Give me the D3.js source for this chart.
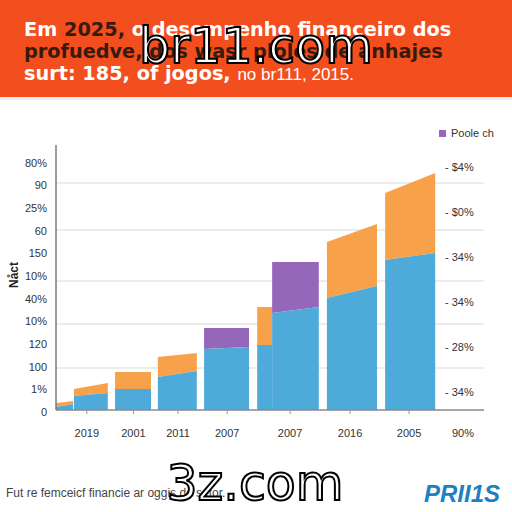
<!DOCTYPE html>
<html>
<head>
<meta charset="utf-8">
<script src="https://cdnjs.cloudflare.com/ajax/libs/d3/7.8.5/d3.min.js"></script>
<style>
  body { margin: 0; background: #fff; }
  svg { display: block; font-family: "Liberation Sans", Arial, sans-serif; }
</style>
</head>
<body>
<div id="chart"></div>
<script>
// bar spans on the x axis (in axis units) and stacked values
var barStart = [0, 0.42, 1.38, 2.38, 3.46, 4.70, 5.05, 6.33, 7.69];
var barEnd   = [0.40, 1.21, 2.22, 3.29, 4.51, 5.05, 6.14, 7.50, 8.86];
// blue base, left and right edge heights
var blueLeft  = [1.2, 5.4, 8.1, 12.7, 23.5, 25.0, 37.3, 43.1, 57.7];
var blueRight = [2.3, 6.5, 8.1, 15.0, 24.2, 25.0, 39.6, 47.7, 60.4];
// top of second segment (total), left and right
var topLeft  = [2.7, 8.1, 14.6, 20.4, 31.5, 39.6, 56.9, 64.6, 83.5];
var topRight = [3.5, 10.4, 14.6, 21.9, 31.5, 39.6, 56.9, 71.5, 91.2];
var topKind  = ["orange", "orange", "orange", "orange", "purple", "orange", "purple", "orange", "orange"];

var gridValues = [16.2, 33.1, 49.6, 69.2, 87.3];

var xLabels = ["2019", "2001", "2011", "2007", "2007", "2016", "2005", "90%"];
var xLabelPos = [0.72, 1.81, 2.85, 4.00, 5.47, 6.87, 8.25, 9.51];
var xTickPos = [0.72, 1.81, 2.85, 4.00, 5.47, 6.87, 8.25];

var leftLabels = ["80%", "90", "25%", "60", "150", "10%", "40%", "10%", "120", "100", "1%", "0"];
var rightLabels = ["- $4%", "- $0%", "- 34%", "- 34%", "- 28%", "- 34%"];

var titleLines = [
  [["Em ", "#fff"], ["2025,", "#3b1a0e"], [" o desempenho financeiro dos", "#fff"]],
  [["profuedve, dos wasr ploles de anhajes", "#3b1a0e"]],
  [["surt: 185, of jogos, ", "#fff"]]
];

var colors = { blue: "#4eaad9", orange: "#f7a24b", purple: "#9467ba" };

var svgWidth = 512, svgHeight = 512;

var svg = d3.select("#chart")
  .append("svg")
  .attr("width", svgWidth)
  .attr("height", svgHeight);

// header banner
svg.append("rect")
  .attr("x", 0).attr("y", 0)
  .attr("width", svgWidth).attr("height", 97)
  .attr("fill", "#f34f1e");
svg.append("rect")
  .attr("x", 0).attr("y", 97)
  .attr("width", svgWidth).attr("height", 3)
  .attr("fill", "#eeeeee");

titleLines.forEach(function(parts, i) {
  var t = svg.append("text")
    .attr("x", 24)
    .attr("y", 36 + i * 22)
    .style("font-family", "DejaVu Sans")
    .style("font-size", "19.3px")
    .style("font-weight", "bold");
  parts.forEach(function(p) {
    t.append("tspan").attr("fill", p[1]).text(p[0]);
  });
  if (i == 2) {
    t.append("tspan")
      .attr("fill", "#fff")
      .style("font-weight", "normal")
      .style("font-family", "Liberation Sans")
      .style("font-size", "17px")
      .text("no br111, 2015.");
  }
});

var x = d3.scaleLinear().domain([0, 10]).range([56, 484]);
var y = d3.scaleLinear().domain([0, 100]).range([410, 150]);

var chart = svg.append("g");

// gridlines
chart.selectAll(".grid")
  .data(gridValues)
  .enter()
  .append("line")
  .attr("x1", x(0)).attr("x2", x(10))
  .attr("y1", function(d) { return y(d); })
  .attr("y2", function(d) { return y(d); })
  .attr("stroke", "#e6e6e6")
  .attr("stroke-width", 1.5);

var bars = d3.range(barStart.length);

// top segments
chart.selectAll(".top")
  .data(bars)
  .enter()
  .append("polygon")
  .attr("points", function(i) {
    return [
      [x(barStart[i]), y(blueLeft[i])],
      [x(barStart[i]), y(topLeft[i])],
      [x(barEnd[i]), y(topRight[i])],
      [x(barEnd[i]), y(blueRight[i])]
    ].join(" ");
  })
  .attr("fill", function(i) { return colors[topKind[i]]; });

// blue segments
chart.selectAll(".blue")
  .data(bars)
  .enter()
  .append("polygon")
  .attr("points", function(i) {
    return [
      [x(barStart[i]), y(0)],
      [x(barStart[i]), y(blueLeft[i])],
      [x(barEnd[i]), y(blueRight[i])],
      [x(barEnd[i]), y(0)]
    ].join(" ");
  })
  .attr("fill", colors.blue);

// axes lines
chart.append("line")
  .attr("x1", x(0)).attr("x2", x(10))
  .attr("y1", y(0)).attr("y2", y(0))
  .attr("stroke", "#8a8a8a").attr("stroke-width", 1.5);
chart.append("line")
  .attr("x1", x(0)).attr("x2", x(0))
  .attr("y1", 145).attr("y2", y(0))
  .attr("stroke", "#7a7a7a").attr("stroke-width", 1.5);

chart.selectAll(".xtick")
  .data(xTickPos)
  .enter()
  .append("line")
  .attr("x1", function(d) { return x(d); })
  .attr("x2", function(d) { return x(d); })
  .attr("y1", y(0)).attr("y2", y(0) + 4)
  .attr("stroke", "#999");

chart.selectAll(".xlabel")
  .data(xLabels)
  .enter()
  .append("text")
  .attr("x", function(d, i) { return x(xLabelPos[i]); })
  .attr("y", 437)
  .attr("text-anchor", "middle")
  .style("font-size", "11px")
  .attr("fill", "#333")
  .text(function(d) { return d; });

// left labels
var yLeft = d3.scalePoint().domain(d3.range(leftLabels.length)).range([163, 412]);
chart.selectAll(".ylabel")
  .data(leftLabels)
  .enter()
  .append("text")
  .attr("x", 47)
  .attr("y", function(d, i) { return yLeft(i); })
  .attr("dy", "0.35em")
  .attr("text-anchor", "end")
  .style("font-size", "11px")
  .attr("fill", "#333")
  .text(function(d) { return d; });

// right labels
var yRight = d3.scalePoint().domain(d3.range(rightLabels.length)).range([167, 392]);
chart.selectAll(".rlabel")
  .data(rightLabels)
  .enter()
  .append("text")
  .attr("x", 445)
  .attr("y", function(d, i) { return yRight(i); })
  .attr("dy", "0.35em")
  .style("font-size", "11px")
  .attr("fill", "#333")
  .text(function(d) { return d; });

// legend
svg.append("rect")
  .attr("x", 439).attr("y", 130)
  .attr("width", 7).attr("height", 7)
  .attr("fill", colors.purple);
svg.append("text")
  .attr("x", 451).attr("y", 137)
  .style("font-size", "11px")
  .attr("fill", "#333")
  .text("Poole ch");

// y axis title
svg.append("text")
  .attr("transform", "translate(18,275) rotate(-90)")
  .attr("text-anchor", "middle")
  .style("font-size", "12px")
  .style("font-weight", "bold")
  .attr("fill", "#222")
  .text("Nåct");

// footer
svg.append("text")
  .attr("x", 6).attr("y", 497)
  .style("font-size", "12px")
  .attr("fill", "#444")
  .text("Fut re femceicf financie ar oggis de setor.");

svg.append("text")
  .attr("x", 424).attr("y", 502)
  .style("font-size", "24px")
  .style("font-weight", "bold")
  .style("font-style", "italic")
  .attr("fill", "#1f7fc2")
  .text("PRII1S");

// overlay marks
svg.append("text")
  .attr("x", 256).attr("y", 63)
  .attr("text-anchor", "middle")
  .style("font-family", "DejaVu Sans")
  .style("font-size", "49px")
  .attr("fill", "#fff")
  .attr("stroke", "#000")
  .attr("stroke-width", 2)
  .text("br11.com");

svg.append("text")
  .attr("x", 255).attr("y", 500)
  .attr("text-anchor", "middle")
  .style("font-family", "DejaVu Sans")
  .style("font-size", "49px")
  .attr("fill", "#fff")
  .attr("stroke", "#000")
  .attr("stroke-width", 2)
  .text("3z.com");
</script>
</body>
</html>
